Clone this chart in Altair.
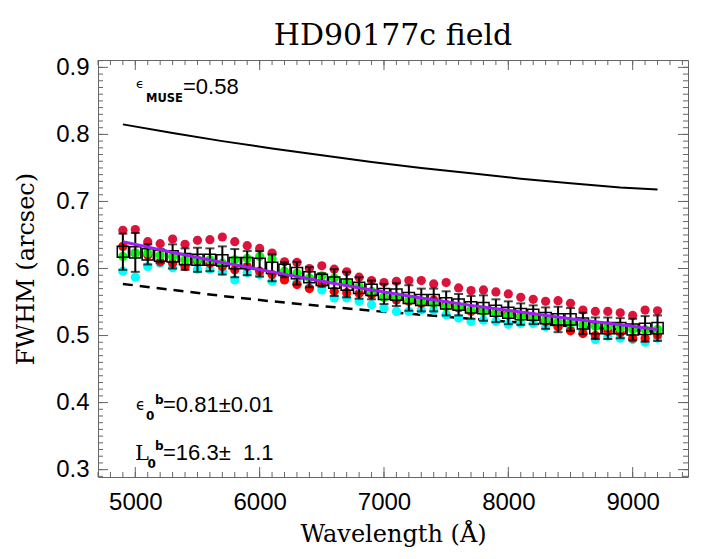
import altair as alt
import pandas as pd

# ---------------- data ----------------
wavelength = [4900, 5000, 5100, 5200, 5300, 5400, 5500, 5600, 5700, 5800, 5900,
              6000, 6100, 6200, 6300, 6400, 6500, 6600, 6700, 6800, 6900, 7000,
              7100, 7200, 7300, 7400, 7500, 7600, 7700, 7800, 7900, 8000, 8100,
              8200, 8300, 8400, 8500, 8600, 8700, 8800, 8900, 9000, 9100, 9200]

fwhm_crimson = [0.657, 0.658, 0.640, 0.637, 0.644, 0.636, 0.642, 0.643, 0.647, 0.640, 0.634,
                0.630, 0.623, 0.610, 0.609, 0.600, 0.604, 0.599, 0.595, 0.587, 0.582, 0.579,
                0.581, 0.582, 0.582, 0.577, 0.579, 0.571, 0.567, 0.568, 0.565, 0.562, 0.557,
                0.554, 0.551, 0.552, 0.548, 0.538, 0.536, 0.536, 0.534, 0.530, 0.538, 0.537]

fwhm_red = [0.633, 0.623, 0.620, 0.610, 0.608, 0.603, 0.611, 0.608, 0.603, 0.598, 0.603,
            0.596, 0.591, 0.583, 0.576, 0.570, 0.578, 0.566, 0.564, 0.563, 0.561, 0.557,
            0.553, 0.551, 0.548, 0.553, 0.546, 0.541, 0.536, 0.538, 0.534, 0.532, 0.529,
            0.528, 0.521, 0.513, 0.507, 0.503, 0.500, 0.506, 0.504, 0.496, 0.496, 0.501]

fwhm_green = [0.618, 0.623, 0.623, 0.620, 0.618, 0.613, 0.613, 0.613, 0.608, 0.613, 0.615,
              0.618, 0.614, 0.596, 0.593, 0.586, 0.589, 0.586, 0.579, 0.573, 0.566, 0.557,
              0.558, 0.553, 0.551, 0.548, 0.543, 0.543, 0.538, 0.536, 0.533, 0.530, 0.528,
              0.526, 0.524, 0.521, 0.519, 0.516, 0.514, 0.514, 0.511, 0.509, 0.509, 0.509]

fwhm_cyan = [0.596, 0.587, 0.603, 0.608, 0.601, 0.603, 0.599, 0.599, 0.596, 0.583, 0.594,
             0.591, 0.581, 0.586, 0.579, 0.571, 0.568, 0.556, 0.556, 0.551, 0.546, 0.541,
             0.536, 0.536, 0.538, 0.538, 0.531, 0.526, 0.521, 0.523, 0.521, 0.517, 0.518,
             0.518, 0.513, 0.512, 0.509, 0.508, 0.494, 0.499, 0.496, 0.494, 0.490, 0.496]

fwhm_mean = [0.625, 0.624, 0.621, 0.619, 0.618, 0.614, 0.613, 0.613, 0.612, 0.608, 0.608,
             0.607, 0.601, 0.598, 0.593, 0.587, 0.583, 0.579, 0.576, 0.571, 0.568, 0.562,
             0.561, 0.556, 0.553, 0.553, 0.548, 0.546, 0.542, 0.541, 0.537, 0.534, 0.532,
             0.531, 0.526, 0.524, 0.524, 0.518, 0.511, 0.511, 0.511, 0.509, 0.510, 0.511]

fwhm_err = [0.027, 0.029, 0.015, 0.010, 0.018, 0.016, 0.018, 0.017, 0.021, 0.021, 0.018,
            0.019, 0.020, 0.011, 0.017, 0.015, 0.010, 0.020, 0.019, 0.016, 0.014, 0.015,
            0.017, 0.019, 0.017, 0.017, 0.018, 0.016, 0.017, 0.019, 0.017, 0.017, 0.016,
            0.014, 0.016, 0.019, 0.017, 0.016, 0.016, 0.016, 0.015, 0.016, 0.019, 0.019]

model_wl = [4900, 5300, 5700, 6100, 6500, 6900, 7300, 7700, 8100, 8500, 8900, 9200]
model_muse = [0.815, 0.802, 0.790, 0.779, 0.769, 0.759, 0.750, 0.742, 0.734, 0.727, 0.721, 0.718]
model_dashed = [0.577, 0.568, 0.559, 0.551, 0.544, 0.537, 0.531, 0.525, 0.519, 0.514, 0.509, 0.506]
model_fit = [0.640, 0.624, 0.609, 0.595, 0.581, 0.568, 0.556, 0.545, 0.535, 0.525, 0.516, 0.509]

x_tick_labels = [5000, 6000, 7000, 8000, 9000]
y_tick_labels = [0.3, 0.4, 0.5, 0.6, 0.7, 0.8, 0.9]
x_minor_ticks = [4700 + 100 * i for i in range(48)]
y_minor_ticks = [round(0.29 + 0.01 * i, 2) for i in range(63)]

title_text = "HD90177c field"
x_title = "Wavelength (Å)"
y_title = "FWHM (arcsec)"

# ---------------- layout ----------------
W, H = 590, 417
FRAME = "#666666"
xs = alt.Scale(domain=[4700, 9445], nice=False, zero=False)
ys = alt.Scale(domain=[0.289, 0.911], nice=False, zero=False)

x_axis = alt.Axis(values=x_tick_labels, format="d", ticks=False, domain=False, grid=False,
                  labelFont="Liberation Sans", labelFontSize=24, labelColor="black",
                  labelPadding=13, title=x_title, titleFont="DejaVu Serif", titleFontSize=24,
                  titleFontWeight="normal", titleColor="black", titleX=W / 2, titleY=64,
                  titleBaseline="alphabetic", titleAlign="center")
y_axis = alt.Axis(values=y_tick_labels, format=".1f", ticks=False, domain=False, grid=False,
                  labelFont="Liberation Sans", labelFontSize=24, labelColor="black",
                  labelPadding=9, title=y_title, titleFont="DejaVu Serif", titleFontSize=24,
                  titleFontWeight="normal", titleColor="black", titleX=-65, titleY=H / 2,
                  titleBaseline="alphabetic", titleAlign="center", titleAngle=270)

pts = pd.DataFrame({"wl": wavelength, "crimson": fwhm_crimson, "red": fwhm_red,
                    "green": fwhm_green, "cyan": fwhm_cyan, "mean": fwhm_mean,
                    "err": fwhm_err})
pts["lo"] = pts["mean"] - pts["err"]
pts["hi"] = pts["mean"] + pts["err"]
models = pd.DataFrame({"wl": model_wl, "muse": model_muse, "dashed": model_dashed,
                       "fit": model_fit})

X = lambda f: alt.X(f"{f}:Q", scale=xs, axis=x_axis)
Y = lambda f: alt.Y(f"{f}:Q", scale=ys, axis=y_axis)

dashed = alt.Chart(models).mark_line(color="black", strokeWidth=2.5, strokeDash=[10, 7]).encode(
    x=X("wl"), y=Y("dashed"))

def dots(col, color):
    return alt.Chart(pts).mark_circle(color=color, size=85, opacity=1).encode(x=X("wl"), y=Y(col))

crimson = dots("crimson", "#DC143C")
cyan = dots("cyan", "#00FFFF")
red = dots("red", "#FF0000")
green = dots("green", "#00FF00")

squares = alt.Chart(pts).mark_point(shape="square", filled=False, color="black", size=125,
                                    strokeWidth=1.5, opacity=1).encode(x=X("wl"), y=Y("mean"))
bars = alt.Chart(pts).mark_rule(color="black", strokeWidth=2).encode(
    x=X("wl"), y=Y("lo"), y2="hi")
cap_lo = alt.Chart(pts).mark_tick(color="black", thickness=2, size=9, orient="horizontal").encode(
    x=X("wl"), y=Y("lo"))
cap_hi = alt.Chart(pts).mark_tick(color="black", thickness=2, size=9, orient="horizontal").encode(
    x=X("wl"), y=Y("hi"))

fit = alt.Chart(models).mark_line(color="#A020F0", strokeWidth=3).encode(x=X("wl"), y=Y("fit"))
muse = alt.Chart(models).mark_line(color="black", strokeWidth=2).encode(x=X("wl"), y=Y("muse"))

# ---- inward ticks (IDL style) ----
xmin = pd.DataFrame({"t": x_minor_ticks})
xmaj = pd.DataFrame({"t": x_tick_labels})
ymin = pd.DataFrame({"t": y_minor_ticks})
ymaj = pd.DataFrame({"t": y_tick_labels})
TK = dict(color=FRAME, strokeWidth=1)

x_minor_b = alt.Chart(xmin).mark_rule(**TK).encode(x=X("t"), y=alt.value(H), y2=alt.value(H - 5))
x_minor_t = alt.Chart(xmin).mark_rule(**TK).encode(x=X("t"), y=alt.value(0), y2=alt.value(5))
x_major_b = alt.Chart(xmaj).mark_rule(**TK).encode(x=X("t"), y=alt.value(H), y2=alt.value(H - 10))
x_major_t = alt.Chart(xmaj).mark_rule(**TK).encode(x=X("t"), y=alt.value(0), y2=alt.value(10))
y_minor_l = alt.Chart(ymin).mark_rule(**TK).encode(y=Y("t"), x=alt.value(0), x2=alt.value(5))
y_minor_r = alt.Chart(ymin).mark_rule(**TK).encode(y=Y("t"), x=alt.value(W), x2=alt.value(W - 5))
y_major_l = alt.Chart(ymaj).mark_rule(**TK).encode(y=Y("t"), x=alt.value(0), x2=alt.value(10))
y_major_r = alt.Chart(ymaj).mark_rule(**TK).encode(y=Y("t"), x=alt.value(W), x2=alt.value(W - 10))

# ---- annotations ----
def label(txt, x, y, size, font="Liberation Sans", weight="normal", align="left"):
    return alt.Chart(pd.DataFrame({"s": [txt]})).mark_text(
        align=align, baseline="alphabetic", font=font, fontSize=size, fontWeight=weight,
        color="black").encode(text="s:N", x=alt.value(x), y=alt.value(y))

ann = [
    label(title_text, W / 2, -15, 30, font="DejaVu Serif", align="center"),
    label("\u03f5", 38, 28, 13, font="DejaVu Sans"),
    label("MUSE", 48, 41.5, 11.5, font="DejaVu Sans", weight="bold"),
    label("=0.58", 85, 33.5, 22),
    label("\u03f5", 38, 350, 15, font="DejaVu Sans"),
    label("0", 48, 360, 12, font="DejaVu Sans", weight="bold"),
    label("b", 57, 343.5, 12, font="DejaVu Sans", weight="bold"),
    label("=0.81\u00b10.01", 65, 352, 22),
    label("L", 37, 400, 21, font="DejaVu Serif"),
    label("0", 49.5, 407.5, 12, font="DejaVu Sans", weight="bold"),
    label("b", 57, 389.5, 12, font="DejaVu Sans", weight="bold"),
    label("=16.3\u00b1\u00a0\u00a01.1", 65, 400, 22),
]

chart = alt.layer(
    x_minor_b, y_minor_l, x_minor_t, x_major_b, x_major_t, y_minor_r, y_major_l, y_major_r,
    dashed, crimson, cyan, red, green, squares, bars, cap_lo, cap_hi, fit, muse, *ann
).properties(
    width=W, height=H,
    autosize=alt.AutoSizeParams(type="none"),
    padding={"left": 90, "top": 52, "right": 11, "bottom": 74},
).configure_view(stroke=FRAME, strokeWidth=1)

chart.save("out.html", embed_options={"renderer": "svg", "actions": False})
